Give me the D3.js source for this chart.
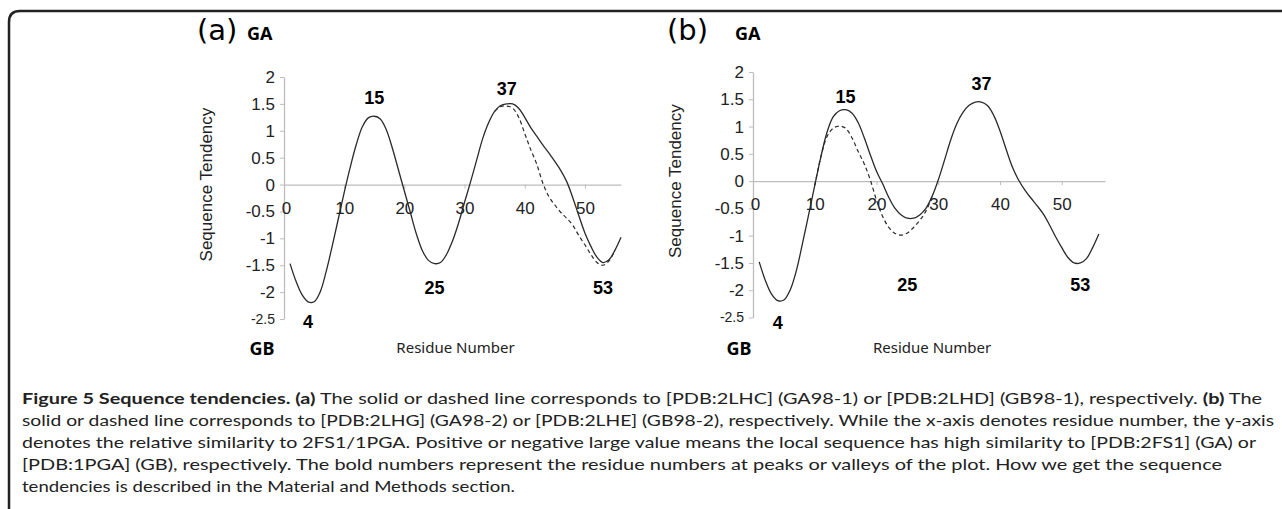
<!DOCTYPE html>
<html>
<head>
<meta charset="utf-8">
<script src="https://cdn.jsdelivr.net/npm/d3@7"></script>
<style>
  body { margin: 0; background: #fff; }
  svg { display: block; }
</style>
</head>
<body>
<script>
const W = 1282, H = 509;
const ink = "#222";
const axisGrey = "#bdbdbd";

const residues = [1,2,3,4,5,6,7,8,9,10,11,12,13,14,15,16,17,18,19,20,21,22,23,24,25,26,27,28,
  29,30,31,32,33,34,35,36,37,38,39,40,41,42,43,44,45,46,47,48,49,50,51,52,53,54,55,56];

// (a) GA98-1 solid, GB98-1 dashed (only where it leaves the solid line)
const solidA = [-1.47,-1.80,-2.05,-2.18,-2.18,-2.00,-1.62,-1.15,-0.65,-0.15,0.32,0.74,1.07,1.24,1.27,1.22,
  1.02,0.68,0.28,-0.12,-0.52,-0.92,-1.23,-1.41,-1.47,-1.45,-1.30,-1.05,-0.72,-0.33,0.05,0.45,0.85,
  1.15,1.36,1.47,1.50,1.50,1.42,1.25,1.06,0.90,0.74,0.59,0.43,0.26,0.05,-0.25,-0.58,-0.90,-1.15,
  -1.35,-1.45,-1.40,-1.22,-0.98];
const dashedAx = [35,36,37,38,39,40,41,42,43,44,45,46,47,48,49,50,51,52,53,54,55];
const dashedA = [1.36,1.45,1.46,1.42,1.25,0.95,0.65,0.38,0.03,-0.22,-0.38,-0.52,-0.63,-0.76,-0.95,-1.12,
  -1.30,-1.45,-1.50,-1.42,-1.22];

// (b) GA98-2 solid, GB98-2 dashed
const solidB = [-1.48,-1.82,-2.07,-2.19,-2.18,-2.00,-1.65,-1.15,-0.62,-0.08,0.45,0.90,1.18,1.29,1.31,1.25,
  1.08,0.80,0.48,0.18,-0.05,-0.30,-0.50,-0.62,-0.68,-0.68,-0.62,-0.50,-0.28,0.02,0.38,0.75,1.05,
  1.26,1.39,1.45,1.45,1.38,1.20,0.92,0.58,0.26,0.02,-0.16,-0.31,-0.45,-0.60,-0.80,-1.02,-1.22,
  -1.40,-1.50,-1.50,-1.42,-1.22,-0.97];
const dashedBx = [10,11,12,13,14,15,16,17,18,19,20,21,22,23,24,25,26,27,28,29];
const dashedB = [-0.08,0.45,0.82,0.97,1.01,0.97,0.80,0.55,0.32,0.02,-0.35,-0.65,-0.85,-0.96,-0.99,-0.95,
  -0.85,-0.72,-0.55,-0.28];

const xTicks = [0,10,20,30,40,50];
const yTicks = [2,1.5,1,0.5,0,-0.5,-1,-1.5,-2,-2.5];

// bold residue numbers: x = residue, y = value where the label sits
const labelsA = [{n:"15", x:15, y:1.62}, {n:"37", x:37, y:1.79}, {n:"25", x:25, y:-1.92},
  {n:"53", x:53, y:-1.92}, {n:"4", x:4, y:-2.55}];
const labelsB = [{n:"15", x:15, y:1.54}, {n:"37", x:37, y:1.78}, {n:"25", x:25, y:-1.90},
  {n:"53", x:53, y:-1.90}, {n:"4", x:4, y:-2.60}];

const captionLines = [
  [["Figure 5 Sequence tendencies. ", true], ["(a)", true], [" The solid or dashed line corresponds to [PDB:2LHC] (GA98-1) or [PDB:2LHD] (GB98-1), respectively. ", false], ["(b)", true], [" The", false]],
  [["solid or dashed line corresponds to [PDB:2LHG] (GA98-2) or [PDB:2LHE] (GB98-2), respectively. While the x-axis denotes residue number, the y-axis", false]],
  [["denotes the relative similarity to 2FS1/1PGA. Positive or negative large value means the local sequence has high similarity to [PDB:2FS1] (GA) or", false]],
  [["[PDB:1PGA] (GB), respectively. The bold numbers represent the residue numbers at peaks or valleys of the plot. How we get the sequence", false]],
  [["tendencies is described in the Material and Methods section.", false]]
];
const captionEnds = [1262, 1274, 1256, 1222, 515];

const svg = d3.select("body").append("svg")
  .attr("width", W).attr("height", H)
  .attr("viewBox", [0, 0, W, H]);

// frame: top rule and left rule with rounded corner
svg.append("path")
  .attr("d", "M9,509 V22 Q9,11 20,11 H1282")
  .attr("fill", "none")
  .attr("stroke", ink)
  .attr("stroke-width", 2.5);

function panel(o) {
  const x = d3.scaleLinear().domain([0, o.xMax]).range([o.left, o.right]);
  const y = d3.scaleLinear().domain([-2.5, 2]).range([o.bottom, o.top]);
  const g = svg.append("g");

  const yAxis = g.append("g")
    .attr("transform", `translate(${o.left},0)`)
    .call(d3.axisLeft(y).tickValues(yTicks).tickSize(4).tickSizeOuter(0).tickPadding(5)
      .tickFormat(d => String(d)));
  const xAxis = g.append("g")
    .attr("transform", `translate(0,${y(0)})`)
    .call(d3.axisBottom(x).tickValues(xTicks).tickSize(4).tickSizeOuter(0).tickPadding(13)
      .tickFormat(d => String(d)));
  for (const a of [yAxis, xAxis]) {
    a.select(".domain").attr("stroke", axisGrey).attr("stroke-width", 1.3);
    a.selectAll(".tick line").attr("stroke", axisGrey);
    a.selectAll("text").attr("fill", ink)
      .style("font", "17px 'Liberation Sans', Arial, sans-serif");
  }
  yAxis.selectAll(".tick text").filter(d => d === -2.5)
    .style("font-size", "14px");
  xAxis.select(".tick text").attr("dx", 2);

  const line = d3.line()
    .x(d => x(d[0])).y(d => y(d[1]))
    .curve(d3.curveCatmullRom.alpha(0.5));

  g.append("path")
    .datum(d3.zip(residues, o.solid))
    .attr("d", line)
    .attr("fill", "none").attr("stroke", "#2a2a2a").attr("stroke-width", 1.3);
  g.append("path")
    .datum(d3.zip(o.dashedX, o.dashed))
    .attr("d", line)
    .attr("fill", "none").attr("stroke", "#2a2a2a").attr("stroke-width", 1.2)
    .attr("stroke-dasharray", "4,3");

  g.selectAll(".num").data(o.labels).join("text")
    .attr("x", d => x(d.x))
    .attr("y", d => y(d.y))
    .attr("dy", "0.35em")
    .attr("text-anchor", "middle")
    .style("font", "bold 18px 'Liberation Sans', Arial, sans-serif")
    .attr("fill", "#000")
    .text(d => d.n);

  g.append("text")
    .attr("transform", `translate(${o.left - 72},${y(0)}) rotate(-90)`)
    .attr("text-anchor", "middle")
    .style("font", "17px 'Liberation Sans', Arial, sans-serif")
    .attr("fill", ink)
    .text("Sequence Tendency");

  g.append("text")
    .attr("x", o.tagX).attr("y", 40)
    .style("font", "29px 'DejaVu Sans', sans-serif")
    .attr("fill", "#000")
    .text(o.tag);
  g.append("text")
    .attr("x", o.gaX).attr("y", 40)
    .style("font", "bold 18px 'Noto Sans', sans-serif")
    .attr("fill", "#000")
    .text("GA");
  g.append("text")
    .attr("x", o.gbX).attr("y", 355)
    .attr("text-anchor", "middle")
    .style("font", "bold 18px 'Noto Sans', sans-serif")
    .attr("fill", "#000")
    .text("GB");
  g.append("text")
    .attr("x", x(o.xMax / 2 + 0.5)).attr("y", 353)
    .attr("text-anchor", "middle")
    .style("font", "15px 'Noto Sans', sans-serif")
    .attr("fill", ink)
    .text("Residue Number");
}

panel({tag: "(a)", tagX: 197, gaX: 247, gbX: 262, left: 284, right: 621, xMax: 56, top: 77, bottom: 319,
  solid: solidA, dashedX: dashedAx, dashed: dashedA, labels: labelsA});
panel({tag: "(b)", tagX: 667, gaX: 735, gbX: 739, left: 753, right: 1105, xMax: 57, top: 72, bottom: 317.5,
  solid: solidB, dashedX: dashedBx, dashed: dashedB, labels: labelsB});

// caption
const cap = svg.append("g");
captionLines.forEach((parts, i) => {
  const t = cap.append("text")
    .attr("x", 22).attr("y", 404 + i * 22)
    .attr("fill", ink)
    .style("font", "16px Lato, 'Open Sans', sans-serif");
  parts.forEach(([s, b]) => {
    t.append("tspan").attr("font-weight", b ? "bold" : "normal").text(s);
  });
  t.attr("textLength", captionEnds[i] - 22).attr("lengthAdjust", "spacingAndGlyphs");
});
</script>
</body>
</html>
